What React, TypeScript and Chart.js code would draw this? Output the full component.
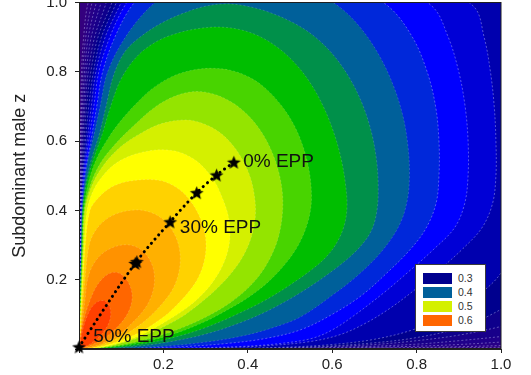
import React, { useEffect, useRef } from "react";
import { Chart, registerables } from "chart.js";

Chart.register(...registerables);

const FONT = '"Liberation Sans", Arial, Helvetica, sans-serif';

// ---- axes ----
const axisMin = 0;
const axisMax = 1;
const tickStep = 0.2;
const yTitle = "Subdominant male z";

// ---- contour levels (lower bound of each filled band) and band colours ----
const levels = [0.2, 0.22, 0.24, 0.26, 0.28, 0.3, 0.32, 0.34, 0.36, 0.38, 0.4, 0.42, 0.44, 0.46, 0.48, 0.5, 0.52, 0.54, 0.56, 0.58, 0.6, 0.62];
const bandColors = [
  "#2e0082", "#270086", "#20008a", "#18008a", "#0e008c", "#00008e", "#0000ae", "#0000d6",
  "#0000ff", "#0028da", "#00609a", "#00904a", "#00be00", "#48d400", "#94e400", "#d4f000",
  "#ffff00", "#ffd200", "#ffb000", "#ff9200", "#ff6600", "#ff4000",
];
const baseColor = "#34007e";
const coolLineColor = "rgba(205,205,255,0.5)";
const warmLineColor = "rgba(255,255,255,0.2)";

// ---- contour outlines [x, z] ----
const c20 = [[0,0],[0.0008,0.3],[0.0025,0.5],[0.003,0.6],[0.0045,0.7],[0.006,0.8],[0.011,0.9],[0.02,0.99],[0.06,1.18],[0.25,1.36],[0.5,1.45],[0.8,1.4],[1.3,1.15],[1.4,0.8],[1.4,0.4],[1.35,0.06],[1.15,0.008],[1.0,0.005],[0.85,0.003],[0,0]];
const c22 = [[0,0],[0.001,0.3],[0.003,0.5],[0.004,0.6],[0.006,0.7],[0.009,0.8],[0.016,0.9],[0.029,0.99],[0.07,1.17],[0.25,1.34],[0.5,1.42],[0.8,1.38],[1.25,1.15],[1.35,0.8],[1.35,0.4],[1.3,0.08],[1.15,0.015],[1.0,0.01],[0.9,0.0065],[0.75,0.0035],[0,0]];
const c24 = [[0,0],[0.001,0.3],[0.004,0.5],[0.005,0.6],[0.008,0.7],[0.013,0.8],[0.022,0.9],[0.039,0.99],[0.08,1.16],[0.25,1.32],[0.5,1.4],[0.8,1.36],[1.2,1.15],[1.3,0.8],[1.3,0.4],[1.25,0.1],[1.12,0.03],[1.0,0.02],[0.9,0.013],[0.8,0.008],[0.6,0.003],[0,0]];
const c26 = [[0,0],[0.001,0.3],[0.005,0.5],[0.007,0.6],[0.011,0.7],[0.017,0.8],[0.029,0.9],[0.05,0.99],[0.09,1.15],[0.25,1.3],[0.5,1.37],[0.8,1.33],[1.15,1.15],[1.25,0.8],[1.25,0.4],[1.2,0.12],[1.1,0.05],[1.0,0.036],[0.9,0.024],[0.8,0.014],[0.65,0.006],[0.45,0.002],[0,0]];
const c28 = [[0,0],[0.001,0.2],[0.0035,0.4],[0.006,0.5],[0.009,0.6],[0.014,0.7],[0.022,0.8],[0.037,0.9],[0.062,0.99],[0.1,1.14],[0.25,1.28],[0.5,1.34],[0.8,1.3],[1.1,1.15],[1.2,0.8],[1.2,0.4],[1.15,0.15],[1.07,0.09],[1.0,0.065],[0.9,0.04],[0.8,0.024],[0.7,0.013],[0.55,0.005],[0.4,0.0018],[0,0]];
const c30 = [[0,0],[0.001,0.1],[0.002,0.2],[0.003,0.3],[0.004,0.4],[0.007,0.5],[0.012,0.6],[0.018,0.7],[0.028,0.8],[0.045,0.9],[0.075,0.99],[0.12,1.13],[0.25,1.25],[0.5,1.3],[0.75,1.26],[1.0,1.14],[1.1,0.95],[1.13,0.7],[1.13,0.45],[1.1,0.25],[1.04,0.15],[0.97,0.095],[0.9,0.06],[0.8,0.033],[0.7,0.018],[0.58,0.008],[0.4,0.0025],[0,0]];
const c32 = [[0,0],[0.0012,0.1],[0.0022,0.2],[0.0033,0.3],[0.0045,0.4],[0.008,0.5],[0.015,0.6],[0.023,0.7],[0.034,0.8],[0.053,0.9],[0.085,0.99],[0.13,1.12],[0.25,1.22],[0.45,1.26],[0.65,1.22],[0.85,1.12],[1.02,0.99],[1.045,0.8],[1.055,0.6],[1.05,0.45],[1.035,0.33],[1.0,0.22],[0.94,0.15],[0.87,0.095],[0.79,0.055],[0.7,0.028],[0.6,0.013],[0.48,0.005],[0.3,0.0015],[0,0]];
const c34 = [[0,0],[0.0013,0.1],[0.0025,0.2],[0.0036,0.3],[0.005,0.4],[0.009,0.5],[0.019,0.6],[0.029,0.7],[0.04,0.8],[0.062,0.9],[0.096,0.99],[0.14,1.1],[0.25,1.18],[0.42,1.22],[0.6,1.19],[0.78,1.1],[0.934,0.99],[0.96,0.9],[0.975,0.8],[0.984,0.7],[0.988,0.6],[0.988,0.5],[0.98,0.42],[0.955,0.35],[0.91,0.29],[0.86,0.235],[0.8,0.175],[0.74,0.12],[0.68,0.075],[0.62,0.042],[0.55,0.022],[0.45,0.01],[0.3,0.003],[0,0]];
const c36 = [[0,0],[0.0014,0.1],[0.0028,0.2],[0.004,0.3],[0.0055,0.4],[0.011,0.5],[0.023,0.6],[0.035,0.7],[0.047,0.8],[0.073,0.9],[0.108,0.99],[0.16,1.08],[0.26,1.15],[0.4,1.18],[0.55,1.16],[0.7,1.09],[0.836,0.99],[0.875,0.9],[0.9,0.8],[0.915,0.7],[0.922,0.6],[0.922,0.5],[0.914,0.42],[0.89,0.35],[0.839,0.286],[0.78,0.222],[0.72,0.16],[0.65,0.095],[0.6,0.055],[0.55,0.03],[0.47,0.015],[0.38,0.007],[0.25,0.003],[0,0]];
const c38 = [[0,0],[0.0016,0.1],[0.003,0.2],[0.0045,0.3],[0.006,0.4],[0.013,0.5],[0.028,0.6],[0.042,0.7],[0.056,0.8],[0.085,0.9],[0.125,0.99],[0.18,1.06],[0.27,1.11],[0.39,1.13],[0.51,1.11],[0.63,1.06],[0.732,0.99],[0.79,0.9],[0.825,0.8],[0.845,0.7],[0.853,0.6],[0.853,0.5],[0.846,0.42],[0.822,0.348],[0.784,0.286],[0.73,0.22],[0.67,0.155],[0.6,0.1],[0.524,0.055],[0.44,0.03],[0.35,0.016],[0.25,0.007],[0.13,0.002],[0,0]];
const c40 = [[0,0],[0.0018,0.1],[0.0034,0.2],[0.005,0.3],[0.007,0.4],[0.013,0.48],[0.022,0.55],[0.034,0.61],[0.05,0.7],[0.068,0.8],[0.11,0.9],[0.171,0.99],[0.23,1.035],[0.3,1.06],[0.39,1.07],[0.48,1.055],[0.56,1.023],[0.614,0.99],[0.665,0.93],[0.71,0.85],[0.745,0.76],[0.768,0.67],[0.78,0.58],[0.783,0.5],[0.778,0.43],[0.76,0.36],[0.72,0.286],[0.66,0.212],[0.6,0.155],[0.524,0.092],[0.45,0.058],[0.38,0.036],[0.3,0.02],[0.2,0.008],[0.1,0.002],[0,0]];
const c42 = [[0,0],[0.002,0.1],[0.0038,0.2],[0.0056,0.3],[0.008,0.4],[0.016,0.48],[0.03,0.55],[0.048,0.62],[0.064,0.7],[0.082,0.79],[0.11,0.86],[0.15,0.905],[0.195,0.94],[0.245,0.968],[0.295,0.988],[0.345,0.996],[0.395,0.99],[0.45,0.972],[0.51,0.94],[0.56,0.9],[0.605,0.845],[0.642,0.78],[0.672,0.705],[0.693,0.625],[0.705,0.545],[0.709,0.47],[0.706,0.4],[0.692,0.34],[0.659,0.286],[0.6,0.225],[0.524,0.162],[0.45,0.112],[0.38,0.075],[0.3,0.043],[0.22,0.022],[0.14,0.008],[0.07,0.002],[0,0]];
const c44 = [[0,0],[0.0023,0.1],[0.0043,0.2],[0.0065,0.3],[0.009,0.4],[0.018,0.48],[0.035,0.55],[0.055,0.62],[0.075,0.7],[0.1,0.78],[0.138,0.845],[0.185,0.888],[0.235,0.912],[0.285,0.925],[0.332,0.929],[0.38,0.922],[0.428,0.902],[0.474,0.867],[0.515,0.82],[0.551,0.762],[0.58,0.697],[0.603,0.627],[0.62,0.555],[0.631,0.48],[0.635,0.41],[0.628,0.355],[0.61,0.305],[0.585,0.265],[0.55,0.228],[0.5,0.185],[0.44,0.14],[0.37,0.098],[0.3,0.062],[0.22,0.032],[0.14,0.013],[0.07,0.003],[0,0]];
const c46 = [[0,0],[0.0026,0.1],[0.005,0.2],[0.0075,0.3],[0.011,0.4],[0.022,0.48],[0.042,0.55],[0.07,0.61],[0.1,0.66],[0.133,0.705],[0.172,0.75],[0.22,0.786],[0.27,0.805],[0.315,0.81],[0.36,0.804],[0.404,0.784],[0.444,0.75],[0.48,0.702],[0.51,0.645],[0.532,0.58],[0.546,0.51],[0.551,0.44],[0.547,0.39],[0.535,0.34],[0.515,0.29],[0.485,0.24],[0.445,0.19],[0.4,0.148],[0.35,0.112],[0.3,0.08],[0.24,0.05],[0.18,0.028],[0.12,0.013],[0.06,0.004],[0,0]];
const c48 = [[0,0],[0.003,0.1],[0.006,0.2],[0.009,0.3],[0.012,0.4],[0.026,0.47],[0.05,0.535],[0.085,0.59],[0.13,0.645],[0.18,0.698],[0.228,0.73],[0.275,0.743],[0.318,0.736],[0.362,0.712],[0.4,0.675],[0.432,0.627],[0.456,0.572],[0.473,0.512],[0.482,0.45],[0.482,0.39],[0.474,0.33],[0.458,0.275],[0.432,0.22],[0.4,0.175],[0.36,0.135],[0.31,0.098],[0.25,0.064],[0.19,0.038],[0.13,0.019],[0.07,0.006],[0,0]];
const c50 = [[0,0],[0.0035,0.1],[0.007,0.2],[0.01,0.3],[0.014,0.4],[0.03,0.47],[0.058,0.53],[0.1,0.585],[0.15,0.625],[0.2,0.652],[0.255,0.661],[0.295,0.65],[0.332,0.626],[0.363,0.59],[0.388,0.545],[0.406,0.495],[0.416,0.44],[0.418,0.385],[0.41,0.33],[0.392,0.275],[0.365,0.225],[0.33,0.178],[0.29,0.135],[0.24,0.09],[0.19,0.058],[0.14,0.032],[0.09,0.014],[0.045,0.0035],[0,0]];
const c52 = [[0,0],[0.004,0.1],[0.008,0.2],[0.012,0.3],[0.019,0.4],[0.035,0.46],[0.06,0.505],[0.09,0.538],[0.125,0.559],[0.162,0.571],[0.2,0.575],[0.238,0.568],[0.272,0.548],[0.3,0.518],[0.323,0.48],[0.34,0.435],[0.353,0.388],[0.358,0.34],[0.354,0.29],[0.34,0.24],[0.318,0.195],[0.29,0.155],[0.255,0.118],[0.2,0.075],[0.15,0.042],[0.1,0.019],[0.05,0.005],[0,0]];
const c54 = [[0,0],[0.005,0.1],[0.01,0.2],[0.015,0.3],[0.026,0.4],[0.045,0.435],[0.07,0.462],[0.1,0.479],[0.135,0.487],[0.17,0.489],[0.205,0.482],[0.238,0.46],[0.264,0.427],[0.284,0.387],[0.297,0.342],[0.301,0.3],[0.297,0.255],[0.283,0.207],[0.26,0.165],[0.23,0.125],[0.2,0.092],[0.15,0.052],[0.1,0.025],[0.05,0.007],[0,0]];
const c56 = [[0,0],[0.004,0.05],[0.007,0.1],[0.014,0.2],[0.024,0.3],[0.038,0.34],[0.06,0.37],[0.088,0.39],[0.12,0.4],[0.152,0.4],[0.182,0.388],[0.207,0.365],[0.226,0.332],[0.237,0.295],[0.24,0.255],[0.235,0.213],[0.221,0.17],[0.2,0.135],[0.175,0.102],[0.15,0.075],[0.12,0.05],[0.09,0.03],[0.05,0.01],[0.025,0.003],[0,0]];
const c58 = [[0,0],[0.005,0.05],[0.01,0.1],[0.015,0.15],[0.02,0.2],[0.032,0.24],[0.052,0.272],[0.08,0.293],[0.112,0.301],[0.14,0.292],[0.161,0.27],[0.174,0.24],[0.179,0.207],[0.176,0.17],[0.164,0.132],[0.144,0.098],[0.12,0.068],[0.1,0.047],[0.075,0.028],[0.05,0.014],[0.025,0.005],[0,0]];
const c60 = [[0,0],[0.005,0.05],[0.015,0.1],[0.026,0.14],[0.04,0.178],[0.057,0.205],[0.077,0.22],[0.097,0.218],[0.113,0.2],[0.123,0.175],[0.126,0.148],[0.121,0.118],[0.108,0.088],[0.088,0.06],[0.064,0.035],[0.036,0.015],[0,0]];
const c62 = [[0,0],[0.006,0.04],[0.012,0.07],[0.02,0.097],[0.031,0.122],[0.045,0.137],[0.058,0.14],[0.068,0.132],[0.074,0.116],[0.075,0.095],[0.069,0.07],[0.056,0.046],[0.04,0.027],[0.02,0.01],[0,0]];

const contours = [c20, c22, c24, c26, c28, c30, c32, c34, c36, c38, c40, c42, c44, c46, c48, c50, c52, c54, c56, c58, c60, c62];

// ---- EPP path and stars ----
const eppX = [0, 0.133, 0.216, 0.279, 0.326, 0.367];
const eppZ = [0.006, 0.247, 0.367, 0.451, 0.502, 0.539];
const starX = [0, 0.133, 0.137, 0.216, 0.279, 0.326, 0.367];
const starZ = [0.006, 0.247, 0.252, 0.367, 0.451, 0.502, 0.539];

// ---- text annotations ----
const eppLabels = ["0% EPP", "30% EPP", "50% EPP"];
const eppLabelX = [0.389, 0.239, 0.034];
const eppLabelZ = [0.525, 0.336, 0.019];

// ---- legend ----
const legendLabels = ["0.3", "0.4", "0.5", "0.6"];
const legendColors = ["#00008e", "#00609a", "#d4f000", "#ff6600"];

function makeStarCanvas(size: number): HTMLCanvasElement {
  const c = document.createElement("canvas");
  c.width = size;
  c.height = size;
  const ctx = c.getContext("2d")!;
  const cx = size / 2;
  const cy = size / 2 + 0.6;
  const R = size / 2 - 0.3;
  const r = R * 0.44;
  ctx.beginPath();
  for (let k = 0; k < 10; k++) {
    const ang = -Math.PI / 2 + (k * Math.PI) / 5;
    const rad = k % 2 === 0 ? R : r;
    const px = cx + rad * Math.cos(ang);
    const py = cy + rad * Math.sin(ang);
    if (k === 0) ctx.moveTo(px, py);
    else ctx.lineTo(px, py);
  }
  ctx.closePath();
  ctx.fillStyle = "#000";
  ctx.fill();
  return c;
}

export default function App() {
  const canvasRef = useRef<HTMLCanvasElement | null>(null);

  useEffect(() => {
    const canvas = canvasRef.current;
    if (!canvas) return;
    const starImg = makeStarCanvas(15);

    const contourSets = contours.map((pts, i) => ({
      label: "level " + levels[i],
      data: pts.map(([x, y]) => ({ x, y })),
      showLine: true,
      fill: "shape",
      backgroundColor: bandColors[i],
      borderColor: levels[i] < 0.4 ? coolLineColor : warmLineColor,
      borderWidth: 0.8,
      borderDash: [2, 2],
      pointRadius: 0,
      tension: 0.35,
      capBezierPoints: false,
      clip: 0,
      order: 100 - i,
    }));

    const DOTTED_INDEX = 1;

    const plotBackground = {
      id: "plotBackground",
      beforeDatasetsDraw(chart: any) {
        const { ctx, chartArea: a } = chart;
        ctx.save();
        ctx.fillStyle = baseColor;
        ctx.fillRect(a.left, a.top, a.right - a.left, a.bottom - a.top);
        ctx.restore();
      },
    };

    const plotFrame = {
      id: "plotFrame",
      beforeDatasetDraw(chart: any, args: any) {
        if (args.index !== DOTTED_INDEX) return;
        const { ctx, chartArea: a } = chart;
        ctx.save();
        ctx.strokeStyle = "#1e1e1e";
        ctx.lineWidth = 1;
        ctx.strokeRect(Math.round(a.left) + 0.5, a.top, a.right - a.left - 0.5, a.bottom - a.top - 0.5);
        ctx.restore();
      },
    };

    const annotationText = {
      id: "annotationText",
      afterDatasetsDraw(chart: any) {
        const { ctx, scales } = chart;
        ctx.save();
        ctx.font = `19px ${FONT}`;
        ctx.fillStyle = "#111";
        ctx.textAlign = "left";
        ctx.textBaseline = "alphabetic";
        eppLabels.forEach((t, i) => {
          ctx.fillText(t, scales.x.getPixelForValue(eppLabelX[i]), scales.y.getPixelForValue(eppLabelZ[i]));
        });
        ctx.restore();
      },
    };

    const tickFmt = (v: any) => (Number(v) === 0 ? "" : Number(v).toFixed(1));

    const chart = new Chart(canvas, {
      type: "scatter",
      data: {
        datasets: [
          {
            label: "stars",
            data: starX.map((x, i) => ({ x, y: starZ[i] })),
            pointStyle: starImg as any,
            pointRadius: 7,
            showLine: false,
            clip: false as any,
            order: 0,
          },
          {
            label: "EPP path",
            data: eppX.map((x, i) => ({ x, y: eppZ[i] })),
            showLine: true,
            fill: false,
            borderColor: "#000",
            borderWidth: 3,
            borderDash: [0.1, 5.4],
            borderCapStyle: "round",
            pointRadius: 0,
            tension: 0.3,
            clip: false as any,
            order: 1,
          },
          ...(contourSets as any[]),
        ],
      },
      options: {
        animation: false,
        responsive: false,
        events: [],
        layout: { autoPadding: false, padding: { top: 2.5, right: 30, bottom: 0, left: 0 } },
        elements: { line: { capBezierPoints: false } },
        plugins: {
          legend: { display: false },
          tooltip: { enabled: false },
        },
        scales: {
          x: {
            type: "linear",
            position: "bottom",
            min: axisMin,
            max: axisMax,
            ticks: {
              stepSize: tickStep,
              callback: tickFmt,
              color: "#222",
              font: { family: FONT, size: 15 },
              padding: 3,
              maxRotation: 0,
              autoSkip: false,
            },
            grid: { display: true, drawOnChartArea: false, drawTicks: true, tickLength: 4, color: "#222" },
            border: { display: true, color: "#222", width: 1 },
            afterFit: (s: any) => {
              s.height = 26;
              s.paddingLeft = 0;
              s.paddingRight = 0;
            },
          },
          y: {
            type: "linear",
            position: "left",
            min: axisMin,
            max: axisMax,
            ticks: {
              stepSize: tickStep,
              callback: tickFmt,
              color: "#222",
              font: { family: FONT, size: 15 },
              padding: 8,
              autoSkip: false,
            },
            grid: { display: true, drawOnChartArea: false, drawTicks: true, tickLength: 4, color: "#222" },
            border: { display: true, color: "#222", width: 1 },
            title: {
              display: true,
              text: yTitle,
              color: "#222",
              font: { family: FONT, size: 18 },
              padding: { top: 9, bottom: 0 },
            },
            afterFit: (s: any) => {
              s.width = 79;
              s.paddingTop = 0;
              s.paddingBottom = 0;
            },
          },
        },
      } as any,
      plugins: [plotBackground, plotFrame, annotationText],
    });

    return () => chart.destroy();
  }, []);

  return (
    <div style={{ position: "fixed", left: 0, top: 0, width: 531, height: 375, background: "#fff", overflow: "hidden" }}>
      <canvas ref={canvasRef} width={531} height={375} style={{ position: "absolute", left: 0, top: 0 }} />
      <div
        style={{
          position: "absolute",
          left: 415,
          top: 264,
          width: 71,
          height: 68,
          background: "#fff",
          border: "1px solid #3a3a3a",
          boxSizing: "border-box",
        }}
      >
        {legendLabels.map((l, i) => (
          <div
            key={l}
            style={{ position: "absolute", left: 7, top: 8 + i * 14, height: 11, display: "flex", alignItems: "center" }}
          >
            <span style={{ display: "inline-block", width: 29, height: 11, background: legendColors[i] }} />
            <span style={{ marginLeft: 6, font: `10.5px ${FONT}`, color: "#333", lineHeight: "11px" }}>{l}</span>
          </div>
        ))}
      </div>
    </div>
  );
}
